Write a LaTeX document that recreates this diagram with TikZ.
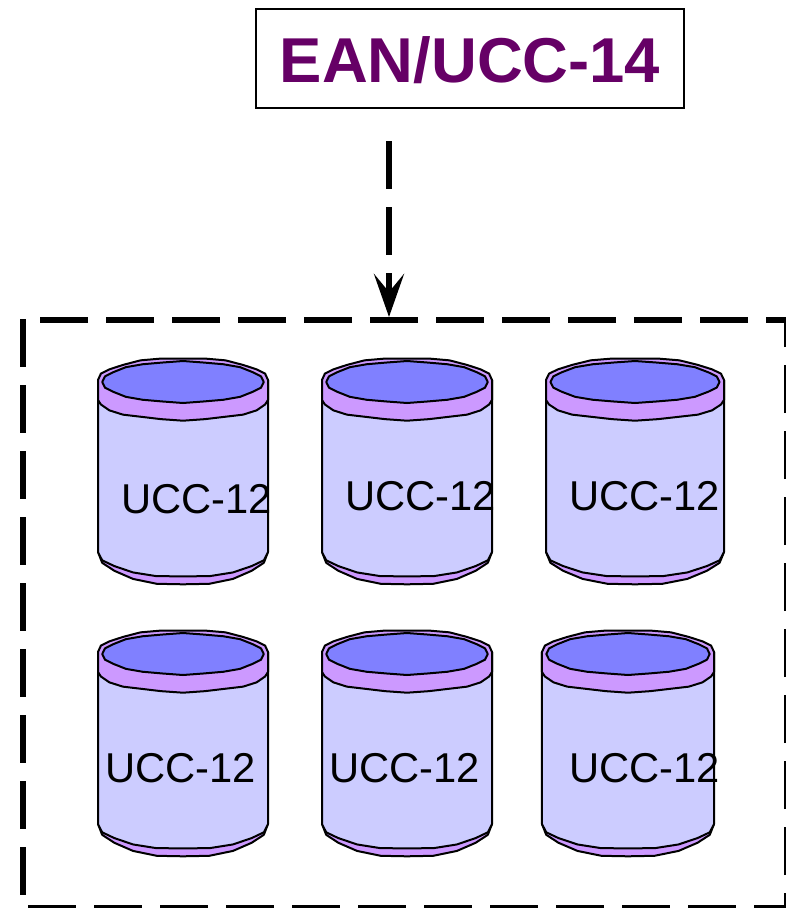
\documentclass[tikz,border=0pt]{standalone}
\usepackage{fontspec}
\setmainfont{Liberation Sans}
\usepackage[svgnames]{xcolor}
\usetikzlibrary{arrows.meta}
\definecolor{eanpurple}{HTML}{660066}
\definecolor{cylbody}{HTML}{CCCCFF}
\definecolor{cylband}{HTML}{CC99FF}
\definecolor{cyltop}{HTML}{8080FF}
\newcommand{\cylrx}{85}
\tikzset{
  cylline/.style={draw=black, line width=2pt, line join=round},
  eanbox/.style={draw=black, line width=1.2pt, minimum width=428pt, minimum height=99pt, inner sep=0pt,
    text=eanpurple, font=\fontsize{63.4}{63.4}\selectfont\bfseries},
  ucclabel/.style={anchor=base west, inner sep=0pt, font=\fontsize{41.7}{41.7}\selectfont},
  bigdash/.style={line width=6pt, dash pattern=on 48pt off 18pt},
  pics/cyl/.style={code={
    \fill[cylband, cylline] (-\cylrx, 194) -- plot[samples=11, domain=180:0] ({\cylrx*cos(\x)}, {194+33*sin(\x)+0.7*sin(7*\x)}) -- cycle;
    \fill[cylbody, cylline] (-\cylrx, 22) -- plot[samples=11, domain=180:0] ({\cylrx*cos(\x)}, {194+25*sin(\x)+0.7*sin(7*\x)}) -- (\cylrx, 22) -- cycle;
    \fill[cylband, cylline] plot[samples=13, domain=180:360] ({\cylrx*cos(\x)}, {22+22*sin(\x)+0.7*sin(7*\x)}) -- plot[samples=13, domain=0:-180] ({\cylrx*cos(\x)}, {42-20*sin(\x)+0.7*sin(7*\x)}) -- cycle;
    \fill[cyltop, cylline] plot[samples=25, domain=0:360] ({0.95*\cylrx*cos(\x)}, {24+20.5*sin(\x)+0.5*sin(9*\x)}) -- cycle;
  }},
}
\begin{document}
\begin{tikzpicture}[x=1pt, y=-1pt]
\useasboundingbox (0, 0) rectangle (785, 908);
\node[eanbox, text depth=0pt] (ean) at (470, 58.5) {\raisebox{-2pt}{EAN/UCC-14}};
% dashed frame round the cylinders
\draw[bigdash] (23, 319) -- (23, 908) -- (787, 908) -- (787, 320) -- (23, 320);
\coordinate (arrowstart) at (389, 141);
\coordinate (arrowend) at (389, 317);
\draw[bigdash, -{Stealth[length=43pt, width=30pt, inset=18pt]}] (arrowstart) -- (arrowend);
\foreach \cx/\cy/\sx/\nm in {183/358/1/a, 407/358/1/b, 635/358/1.047/c, 183/630/1/d, 407/630/1/e, 628/630/1.012/f}
  \pic[xscale=\sx] (cyl\nm) at (\cx, \cy) {cyl};
\foreach \lx/\ly/\nm in {121/513/a, 345/510/b, 569/510/c, 105/782/d, 329/782/e, 569/782/f}
  \node[ucclabel] (label\nm) at (\lx, \ly) {UCC-12};
\end{tikzpicture}
\end{document}
